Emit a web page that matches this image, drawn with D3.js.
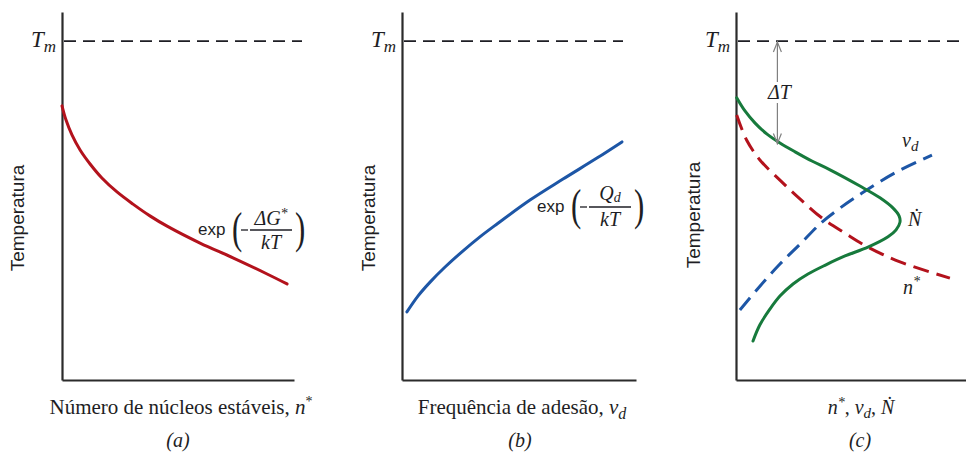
<!DOCTYPE html>
<html><head><meta charset="utf-8">
<script src="https://cdn.jsdelivr.net/npm/d3@7"></script>
<style>body{margin:0;background:#fff}svg{display:block}</style>
</head><body>
<svg id="c" width="966" height="452"></svg>
<script>
// ---- data (x: relative quantity 0-100, y: temperature 0-100) ----
const tMelt = 92.1;
const panelCaptions = ["(a)", "(b)", "(c)"];
const yLabel = "Temperatura";
const xLabelA = "Número de núcleos estáveis, ";
const xLabelB = "Frequência de adesão, ";
// (a) n* vs T
const nStarA = [[0,74.5],[1.7,70.7],[4.3,66.6],[7.8,62.5],[12.1,58.7],[17.2,54.9],[23.7,51.1],[30.6,47.8],[37.9,44.6],[45.3,41.8],[59.5,37.2],[73.7,33.2],[88.4,28.8],[97.0,26.1]];
// (b) nu_d vs T
const nuDB = [[2.1,18.5],[6.8,22.8],[12.0,26.6],[18.4,30.7],[26.1,35.1],[33.3,38.9],[40.6,42.4],[54.7,48.9],[68.8,54.6],[83.3,60.3],[94.0,64.7]];
// (c) combined
const nDotC = [[0.3,76.7],[3.9,73.1],[8.3,69.8],[13.5,66.8],[19.1,64.4],[25.7,62.0],[33.0,59.5],[40.9,57.1],[53.9,52.7],[62.6,49.5],[68.3,46.7],[70.9,44.6],[71.3,42.9],[69.6,40.8],[66.1,38.9],[57.4,36.1],[47.4,33.7],[39.1,31.3],[31.3,28.8],[24.8,26.1],[19.1,22.8],[14.8,19.3],[10.4,15.0],[7.4,10.6]];
const nStarC = [[0.3,72.0],[4.6,65.2],[10.4,59.8],[19.1,54.3],[27.8,49.2],[37.4,44.0],[47.4,39.9],[57.4,36.1],[71.3,32.1],[93.0,27.7]];
const nuDC = [[1.7,19.0],[10.4,25.5],[19.1,31.5],[27.8,36.9],[37.4,42.9],[45.2,46.7],[54.8,50.8],[69.1,56.3],[85.2,61.1]];
const deltaTBottom = 64.0; // where ΔT arrow ends (on N-dot curve)
const deltaTx = 18.0;

const RED = "#b3121c", BLUE = "#1d56a6", GREEN = "#177a3c", INK = "#1e1e24";
const SERIF = "'Liberation Serif','DejaVu Serif',serif";
const SANS = "'Liberation Sans',Arial,sans-serif";

const svg = d3.select("#c");

function panel(x0, x1, opts) {
  const x = d3.scaleLinear().domain([0,100]).range([x0, x1]);
  const y = d3.scaleLinear().domain([0,100]).range([380, 12]);
  const g = svg.append("g");
  g.append("line").attr("x1", x0+2).attr("x2", opts.tmEnd).attr("y1", y(tMelt)).attr("y2", y(tMelt))
    .attr("stroke", INK).attr("stroke-width", 1.8).attr("stroke-dasharray", "12,7");
  const ax = g.append("g").attr("transform", "translate(0,380)").call(d3.axisBottom(x).tickValues([]).tickSizeOuter(0));
  const ay = g.append("g").attr("transform", `translate(${x0},0)`).call(d3.axisLeft(y).tickValues([]).tickSizeOuter(0));
  [ax, ay].forEach(a => a.select(".domain").attr("stroke", "#2b2b2b").attr("stroke-width", 2.2));
  const tm = g.append("text").attr("x", x0-6).attr("y", y(tMelt)+6).attr("text-anchor","end")
    .attr("font-family", SERIF).attr("font-style","italic").attr("font-size", 23).attr("fill", INK);
  tm.append("tspan").text("T");
  tm.append("tspan").attr("font-size", 17).attr("dy", 5).text("m");
  g.append("text").attr("transform", `translate(${opts.yLabX},${opts.yLabY}) rotate(-90)`)
    .attr("text-anchor","middle").attr("font-family", SANS).attr("font-size", 19).attr("fill", INK).text(yLabel);
  return {x, y, g};
}

function curve(p, data, color, dashed) {
  p.g.append("path").datum(data)
    .attr("d", d3.line().x(d => p.x(d[0])).y(d => p.y(d[1])).curve(d3.curveCatmullRom.alpha(0.5)))
    .attr("fill","none").attr("stroke", color).attr("stroke-width", 3)
    .attr("stroke-linecap", dashed ? "butt" : "round")
    .attr("stroke-dasharray", dashed ? "16,8" : null);
}

function expLabel(g, x0, yBar, numParts, numOff) {
  g.append("text").attr("x", x0).attr("y", yBar+5).attr("font-family", SANS).attr("font-size", 17).attr("fill", INK).text("exp");
  g.append("text").attr("x", x0+34).attr("y", yBar+13).attr("font-family", SERIF).attr("font-size", 44)
    .attr("fill", INK).attr("transform", `translate(${x0+34},${yBar}) scale(0.7,1) translate(${-(x0+34)},${-yBar})`).text("(");
  g.append("line").attr("x1", x0+43).attr("x2", x0+50).attr("y1", yBar).attr("y2", yBar).attr("stroke", INK).attr("stroke-width", 1.3);
  g.append("line").attr("x1", x0+52).attr("x2", x0+94).attr("y1", yBar).attr("y2", yBar).attr("stroke", INK).attr("stroke-width", 1.3);
  const num = g.append("text").attr("x", x0+73).attr("y", yBar-(numOff||5)).attr("text-anchor","middle")
    .attr("font-family", SERIF).attr("font-style","italic").attr("font-size", 20).attr("fill", INK);
  numParts(num);
  g.append("text").attr("x", x0+73).attr("y", yBar+19).attr("text-anchor","middle")
    .attr("font-family", SERIF).attr("font-style","italic").attr("font-size", 20).attr("fill", INK).text("kT");
  g.append("text").attr("x", x0+97).attr("y", yBar+13).attr("font-family", SERIF).attr("font-size", 44)
    .attr("fill", INK).attr("transform", `translate(${x0+97},${yBar}) scale(0.7,1) translate(${-(x0+97)},${-yBar})`).text(")");
}

function xTitle(g, cx, mainText, mathFn, size) {
  const t = g.append("text").attr("x", cx).attr("y", 414).attr("text-anchor","middle")
    .attr("font-family", SERIF).attr("font-size", size || 21).attr("fill", INK);
  if (mainText) t.append("tspan").text(mainText);
  mathFn(t);
}
function caption(g, cx, s) {
  g.append("text").attr("x", cx).attr("y", 447).attr("text-anchor","middle")
    .attr("font-family", SERIF).attr("font-style","italic").attr("font-size", 20).attr("fill", INK).text(s);
}

// ---- panel a ----
const pa = panel(62, 294, {tmEnd: 302, yLabX: 24, yLabY: 218});
curve(pa, nStarA, RED, false);
expLabel(pa.g, 198, 230, t => { t.append("tspan").text("ΔG"); t.append("tspan").attr("font-size", 14).attr("dy", -7).text("*"); });
xTitle(pa.g, 181, xLabelA, t => { t.append("tspan").attr("font-style","italic").text("n"); t.append("tspan").attr("font-size", 14).attr("dy", -8).text("*"); });
caption(pa.g, 178, panelCaptions[0]);

// ---- panel b ----
const pb = panel(402, 636, {tmEnd: 623, yLabX: 375, yLabY: 218});
curve(pb, nuDB, BLUE, false);
expLabel(pb.g, 537, 207, t => { t.append("tspan").text("Q"); t.append("tspan").attr("font-size", 14).attr("dy", 2).text("d"); }, 7);
xTitle(pb.g, 522, xLabelB, t => { t.append("tspan").attr("font-style","italic").text("ν"); t.append("tspan").attr("font-style","italic").attr("font-size", 16).attr("dy", 5).text("d"); });
caption(pb.g, 520, panelCaptions[1]);

// ---- panel c ----
const pc = panel(736, 966, {tmEnd: 966, yLabX: 700, yLabY: 215});
curve(pc, nStarC, RED, true);
curve(pc, nuDC, BLUE, true);
curve(pc, nDotC, GREEN, false);
const ax0 = pc.x(deltaTx), yTop = pc.y(tMelt), yBot = pc.y(deltaTBottom);
const AG = "#808080";
pc.g.append("line").attr("x1", ax0).attr("x2", ax0).attr("y1", yTop).attr("y2", 82).attr("stroke", AG).attr("stroke-width", 1.2);
pc.g.append("line").attr("x1", ax0).attr("x2", ax0).attr("y1", 103).attr("y2", yBot).attr("stroke", AG).attr("stroke-width", 1.2);
pc.g.append("path").attr("d", `M${ax0-4},${yTop+11}L${ax0},${yTop+1}L${ax0+4},${yTop+11}`).attr("fill","none").attr("stroke", AG).attr("stroke-width", 1.2);
pc.g.append("path").attr("d", `M${ax0-4},${yBot-11}L${ax0},${yBot-1}L${ax0+4},${yBot-11}`).attr("fill","none").attr("stroke", AG).attr("stroke-width", 1.2);
pc.g.append("text").attr("x", ax0+2).attr("y", 99).attr("text-anchor","middle").attr("font-family", SERIF).attr("font-style","italic")
  .attr("font-size", 20).attr("fill", INK).text("ΔT");
const lab = (x, y, fn) => { const t = pc.g.append("text").attr("x", x).attr("y", y).attr("font-family", SERIF).attr("font-style","italic").attr("font-size", 20).attr("fill", INK); fn(t); };
lab(902, 147, t => { t.append("tspan").text("ν"); t.append("tspan").attr("font-size", 15).attr("dy", 4).text("d"); });
lab(908, 226, t => t.append("tspan").text("Ṅ"));
lab(903, 294, t => { t.append("tspan").text("n"); t.append("tspan").attr("font-size", 14).attr("dy", -8).text("*"); });
xTitle(pc.g, 861, null, t => {
  t.attr("font-style","italic");
  t.append("tspan").text("n"); t.append("tspan").attr("font-size", 14).attr("dy", -7).text("*");
  t.append("tspan").attr("dy", 7).attr("font-style","normal").text(", ");
  t.append("tspan").text("ν");
  t.append("tspan").attr("font-size", 15).attr("dy", 4).text("d");
  t.append("tspan").attr("dy", -4).attr("font-style","normal").text(", ");
  t.append("tspan").text("Ṅ");
}, 20);
caption(pc.g, 860, panelCaptions[2]);
</script>
</body></html>
